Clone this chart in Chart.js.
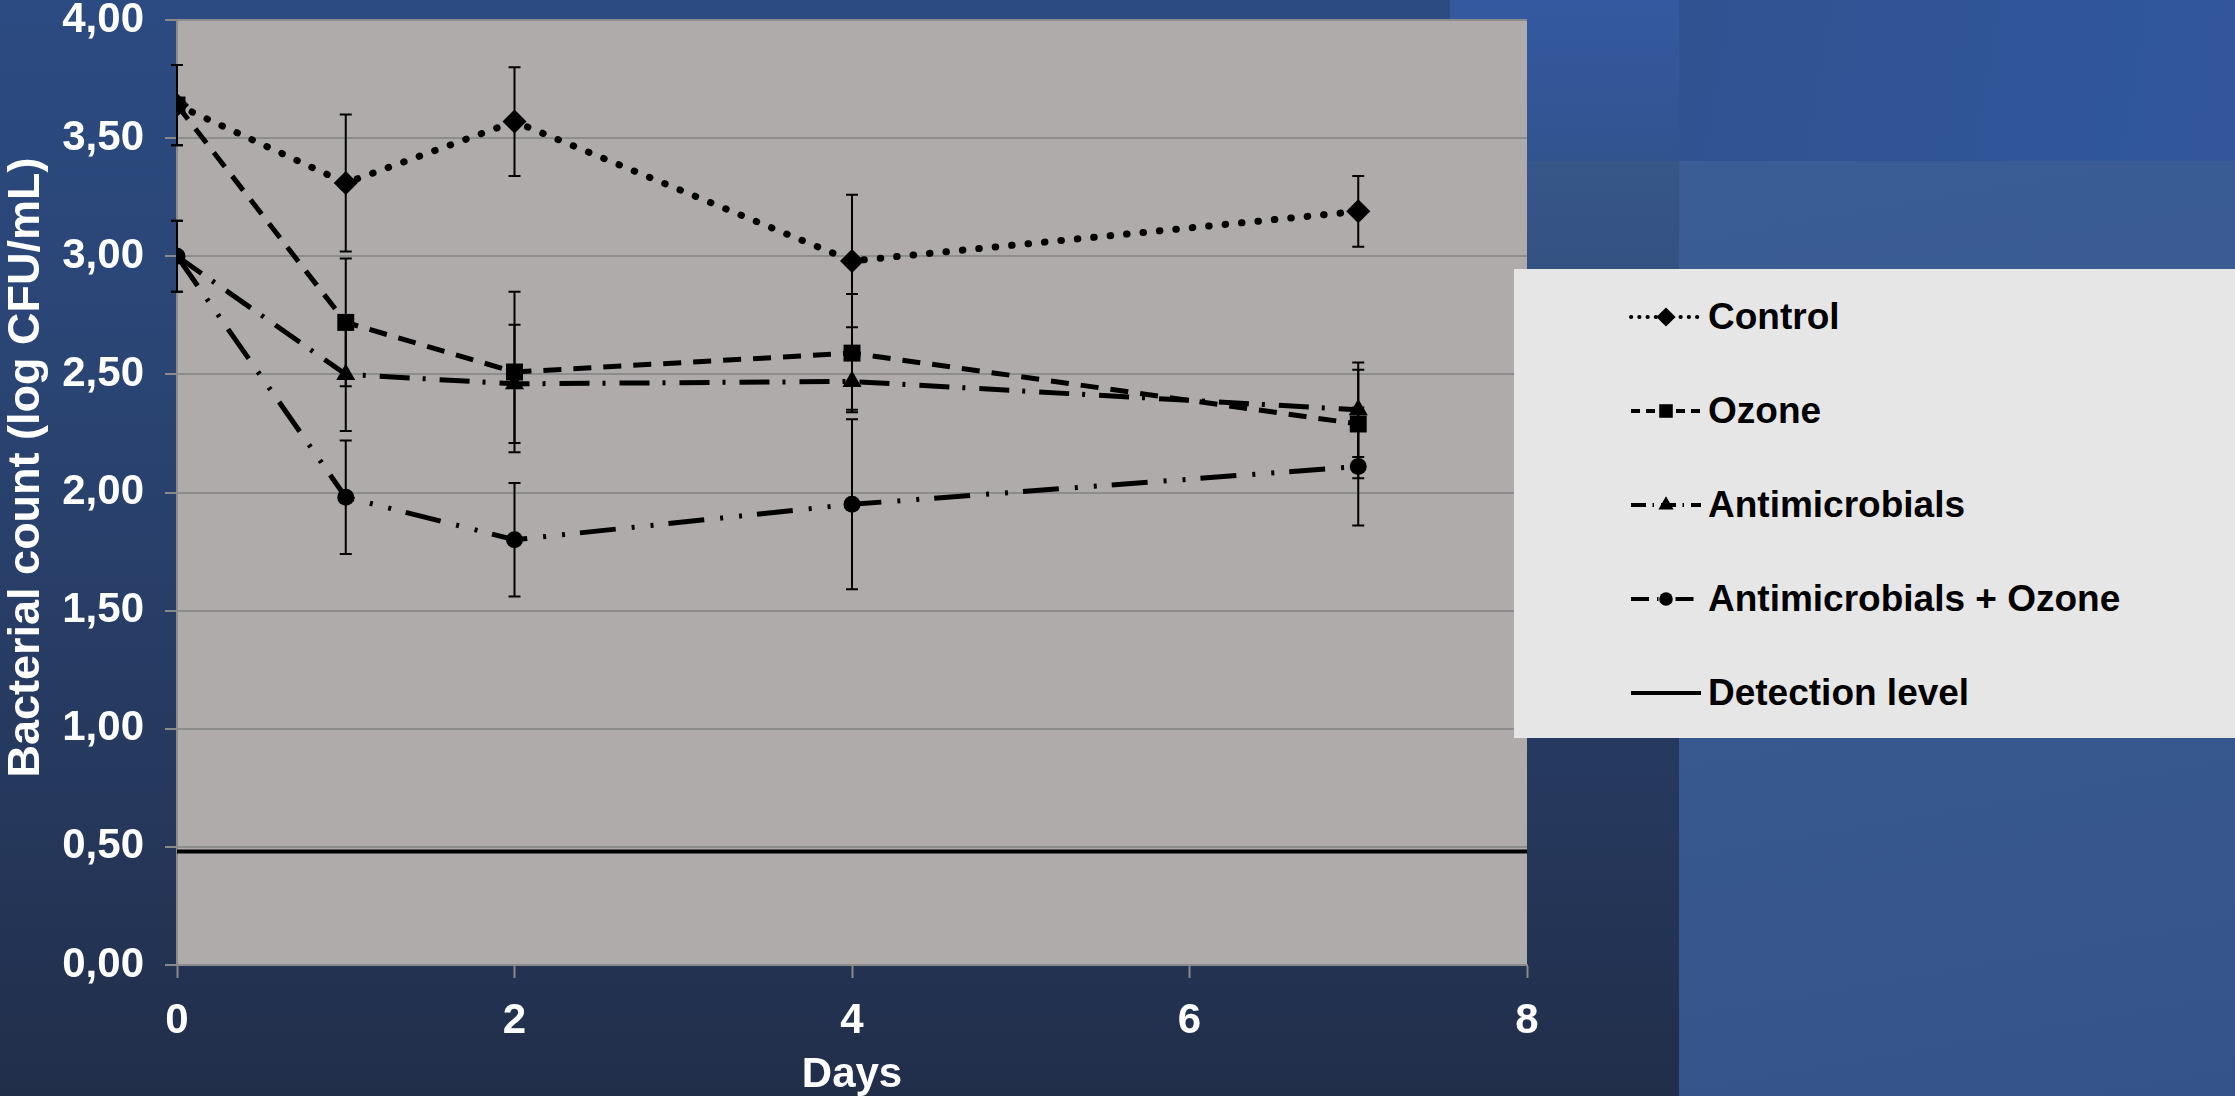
<!DOCTYPE html>
<html>
<head>
<meta charset="utf-8">
<title>Bacterial count</title>
<script src="https://cdn.jsdelivr.net/npm/chart.js@4.4.1/dist/chart.umd.min.js"></script>
<style>
  html, body { margin: 0; padding: 0; }
  body {
    width: 2235px; height: 1096px; position: relative; overflow: hidden;
    background: linear-gradient(180deg, #2c4b82 0%, #2a4473 35%, #26395e 70%, #212e4a 100%);
    font-family: 'Liberation Sans', Arial, sans-serif;
  }
  .bg { position: absolute; }
  .bg-corner { left: 1450px; top: 0; width: 229px; height: 161px; background: linear-gradient(180deg, #3459a0 0%, #31548f 100%); }
  .bg-corner-low { left: 1527px; top: 161px; width: 152px; height: 935px; background: linear-gradient(180deg, #375789 0%, #2d4672 35%, #26395e 65%, #212e4a 100%); }
  .bg-right { left: 1679px; top: 0; width: 556px; height: 1096px; background: linear-gradient(170deg, #3b5d97 0%, #395a92 50%, #34538a 100%); }
  .bg-right-top { left: 1679px; top: 0; width: 556px; height: 161px; background: linear-gradient(100deg, #305291 0%, #30569a 80%, #33559a 100%); }
  #chart { position: absolute; left: 0; top: 0; }
  #legend {
    position: absolute; left: 1514px; top: 269px; width: 721px; height: 469px;
    background: #e6e6e6;
  }
  .legend-row { position: absolute; left: 115px; height: 40px; display: flex; align-items: center; }
  .legend-row canvas { width: 74px; height: 30px; margin-right: 5px; }
  .legend-row span { font-weight: bold; font-size: 37px; color: #000; white-space: nowrap; line-height: 40px; }
</style>
</head>
<body>
<div class="bg bg-corner-low"></div>
<div class="bg bg-corner"></div>
<div class="bg bg-right"></div>
<div class="bg bg-right-top"></div>
<canvas id="chart" width="2235" height="1096"></canvas>
<div id="legend"></div>

<script>
// --- Data ---
const days = [0, 1, 2, 4, 7];

const controlMean = [3.64, 3.31, 3.57, 2.98, 3.19];
const controlSd = [0.17, 0.29, 0.23, 0.28, 0.15];

const ozoneMean = [3.64, 2.72, 2.51, 2.59, 2.29];
const ozoneSd = [0.17, 0.27, 0.34, 0.25, 0.23];

const antimicrobialsMean = [3.00, 2.50, 2.46, 2.47, 2.35];
const antimicrobialsSd = [0.15, 0.24, 0.25, 0.12, 0.20];

const comboMean = [3.00, 1.98, 1.80, 1.95, 2.11];
const comboSd = [0.15, 0.24, 0.24, 0.36, 0.25];

const detectionDays = [0, 8];
const detectionLevel = [0.48, 0.48];

const seriesLabels = ['Control', 'Ozone', 'Antimicrobials', 'Antimicrobials + Ozone', 'Detection level'];

const xTicks = [0, 2, 4, 6, 8];
const yTicks = [0, 0.5, 1, 1.5, 2, 2.5, 3, 3.5, 4];
const yTickLabels = ['0,00', '0,50', '1,00', '1,50', '2,00', '2,50', '3,00', '3,50', '4,00'];

function toPoints(xs, ys) {
    return xs.map((x, i) => ({ x: x, y: ys[i] }));
}

// --- Plugins ---
const plotBackground = {
    id: 'plotBackground',
    beforeDraw(chart) {
        const a = chart.chartArea;
        const ctx = chart.ctx;
        ctx.save();
        ctx.fillStyle = '#afabaa';
        ctx.fillRect(a.left, a.top, a.right - a.left, a.bottom - a.top);
        ctx.restore();
    }
};

// vertical error bars with caps, drawn under the markers
const errorBars = {
    id: 'errorBars',
    beforeDatasetsDraw(chart) {
        const ctx = chart.ctx;
        const xs = chart.scales.x;
        const ys = chart.scales.y;
        ctx.save();
        ctx.strokeStyle = '#000';
        ctx.lineWidth = 2;
        chart.data.datasets.forEach(ds => {
            if (!ds.errors) return;
            ds.data.forEach((p, i) => {
                const x = xs.getPixelForValue(p.x);
                const top = ys.getPixelForValue(p.y + ds.errors[i]);
                const bottom = ys.getPixelForValue(p.y - ds.errors[i]);
                ctx.beginPath();
                ctx.moveTo(x, top); ctx.lineTo(x, bottom);
                ctx.moveTo(x - 6, top); ctx.lineTo(x + 6, top);
                ctx.moveTo(x - 6, bottom); ctx.lineTo(x + 6, bottom);
                ctx.stroke();
            });
        });
        ctx.restore();
    }
};

// legend as html, samples drawn with the dataset styles
function buildLegend(chart) {
    const box = document.getElementById('legend');
    box.innerHTML = '';
    chart.data.datasets.forEach((ds, i) => {
        const row = document.createElement('div');
        row.className = 'legend-row';
        row.style.top = (28 + i * 94) + 'px';
        const cv = document.createElement('canvas');
        cv.width = 74; cv.height = 30;
        const c = cv.getContext('2d');
        c.strokeStyle = '#000';
        c.lineWidth = 4;
        c.lineCap = ds.borderCapStyle || 'butt';
        c.setLineDash(ds.borderDash.map(v => v * 0.5));
        c.beginPath();
        c.moveTo(2, 15); c.lineTo(72, 15);
        c.stroke();
        if (ds.pointRadius > 0) {
            c.setLineDash([]);
            c.fillStyle = '#000';
            Chart.helpers.drawPoint(c, { pointStyle: ds.pointStyle, radius: ds.pointRadius * 0.8, borderWidth: 0, rotation: 0 }, 37, 15);
        }
        const label = document.createElement('span');
        label.textContent = ds.label;
        row.appendChild(cv);
        row.appendChild(label);
        box.appendChild(row);
    });
}

// --- Chart ---
const fontFamily = "'Liberation Sans', Arial, sans-serif";
const tickFont = { family: fontFamily, size: 42, weight: 'bold' };

const chart = new Chart(document.getElementById('chart'), {
    type: 'line',
    data: {
        datasets: [
            {
                label: seriesLabels[0], data: toPoints(days, controlMean), errors: controlSd, order: 4,
                borderColor: '#000', borderWidth: 7, borderDash: [0.5, 16], borderCapStyle: 'round',
                pointStyle: 'rectRot', pointRadius: 12, pointBackgroundColor: '#000', pointBorderWidth: 0
            },
            {
                label: seriesLabels[1], data: toPoints(days, ozoneMean), errors: ozoneSd, order: 1,
                borderColor: '#000', borderWidth: 5, borderDash: [18, 12],
                pointStyle: 'rect', pointRadius: 12, pointBackgroundColor: '#000', pointBorderWidth: 0
            },
            {
                label: seriesLabels[2], data: toPoints(days, antimicrobialsMean), errors: antimicrobialsSd, order: 3,
                borderColor: '#000', borderWidth: 5, borderDash: [30, 13, 3, 14],
                pointStyle: 'triangle', pointRadius: 11, pointBackgroundColor: '#000', pointBorderWidth: 0
            },
            {
                label: seriesLabels[3], data: toPoints(days, comboMean), errors: comboSd, order: 2,
                borderColor: '#000', borderWidth: 5, borderDash: [36, 16, 3, 16, 3, 15],
                pointStyle: 'circle', pointRadius: 8.5, pointBackgroundColor: '#000', pointBorderWidth: 0
            },
            {
                label: seriesLabels[4], data: toPoints(detectionDays, detectionLevel), order: 5,
                borderColor: '#000', borderWidth: 4, borderDash: [],
                pointRadius: 0
            }
        ]
    },
    options: {
        responsive: false,
        animation: false,
        devicePixelRatio: 1,
        layout: { padding: { left: 0, top: 20, right: 708, bottom: 0 } },
        elements: { line: { tension: 0 } },
        plugins: { legend: { display: false }, tooltip: { enabled: false } },
        scales: {
            x: {
                type: 'linear', min: 0, max: 8,
                afterBuildTicks: scale => { scale.ticks = xTicks.map(v => ({ value: v })); },
                afterFit: scale => { scale.height = 131; },
                ticks: { color: '#fff', font: tickFont, padding: 18, maxRotation: 0, autoSkip: false },
                grid: { drawOnChartArea: false, drawTicks: true, tickLength: 13, tickColor: '#8a8a8a', tickWidth: 2 },
                border: { display: true, color: '#8a8a8a', width: 2 },
                title: {
                    display: true, text: 'Days', color: '#fff',
                    font: { family: fontFamily, size: 42, weight: 'bold', lineHeight: 1.0 },
                    padding: { top: 0, bottom: 0 }
                }
            },
            y: {
                type: 'linear', min: 0, max: 4,
                afterBuildTicks: scale => { scale.ticks = yTicks.map(v => ({ value: v })); },
                afterFit: scale => {
                    scale.width = 177;
                    // keep the plot top at the 4,00 line, not pushed down by label padding
                    scale.paddingTop = 20;
                    scale.paddingBottom = 0;
                },
                ticks: {
                    color: '#fff', font: tickFont, padding: 21, autoSkip: false,
                    callback: v => yTickLabels[yTicks.indexOf(v)]
                },
                grid: { color: '#8c8c8c', lineWidth: 2, drawTicks: true, tickLength: 12, tickColor: '#8a8a8a' },
                border: { display: true, color: '#8a8a8a', width: 2 },
                title: {
                    display: true,
                    // leading spaces nudge the rotated title up a little, as in the original
                    text: '\u00a0\u00a0\u00a0\u00a0Bacterial count (log CFU/mL)',
                    color: '#fff',
                    font: { family: fontFamily, size: 45, weight: 'bold', lineHeight: 1.1 },
                    padding: { top: 2, bottom: 0 }
                }
            }
        }
    },
    plugins: [plotBackground, errorBars]
});

buildLegend(chart);
</script>
</body>
</html>
